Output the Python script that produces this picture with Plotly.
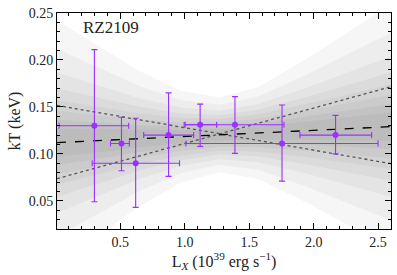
import plotly.graph_objects as go

# ---- data ----
lx      = [0.30, 0.51, 0.62, 0.875, 1.12, 1.39, 1.755, 2.17]
kt      = [0.130, 0.111, 0.090, 0.120, 0.131, 0.131, 0.111, 0.120]
kt_lo   = [0.049, 0.082, 0.043, 0.076, 0.108, 0.1005, 0.071, 0.100]
kt_hi   = [0.211, 0.139, 0.138, 0.165, 0.153, 0.161, 0.152, 0.141]
lx_lo   = [0.026, 0.425, 0.283, 0.682, 1.004, 0.996, 1.01, 1.894]
lx_hi   = [0.566, 0.571, 0.96, 1.07, 1.248, 1.77, 2.50, 2.45]

# best-fit and 1-sigma extreme lines (end points at x limits)
line_x      = [0.01, 2.6]
best_fit    = [0.112, 0.129]
upper_dot   = [0.1516, 0.0896]
lower_dot   = [0.0736, 0.1715]

# posterior fan (shaded envelopes): centre and half-widths at sample x
fan_x      = [0.01, 0.65, 0.97, 1.27, 1.57, 1.95, 2.6]
fan_center = [0.112, 0.1162, 0.1183, 0.1203, 0.1222, 0.1248, 0.129]
fan_halfwidths = [
    [0.130, 0.0720, 0.0490, 0.040, 0.0490, 0.0770, 0.130],
    [0.100, 0.0560, 0.0390, 0.032, 0.0390, 0.0600, 0.100],
    [0.075, 0.0430, 0.0310, 0.026, 0.0310, 0.0460, 0.075],
    [0.058, 0.0340, 0.0250, 0.021, 0.0250, 0.0360, 0.058],
    [0.045, 0.0270, 0.0200, 0.017, 0.0200, 0.0285, 0.045],
    [0.034, 0.0205, 0.0152, 0.013, 0.0152, 0.0215, 0.034],
    [0.024, 0.0145, 0.0107, 0.009, 0.0107, 0.0152, 0.024],
    [0.015, 0.0093, 0.0070, 0.006, 0.0070, 0.0098, 0.015],
]

purple = "#9b30ff"
font_family = "Liberation Serif, DejaVu Serif, serif"
text_col = "#222222"

fig = go.Figure()

for hw in fan_halfwidths:
    hi = [c + h for c, h in zip(fan_center, hw)]
    lo = [c - h for c, h in zip(fan_center, hw)]
    fig.add_trace(go.Scatter(
        x=fan_x + fan_x[::-1], y=hi + lo[::-1],
        fill="toself", fillcolor="rgba(0,0,0,0.035)",
        line=dict(width=0), mode="lines",
        hoverinfo="skip", showlegend=False))

fig.add_trace(go.Scatter(x=line_x, y=upper_dot, mode="lines",
                         line=dict(color="#555555", width=1.3, dash="dot"), showlegend=False))
fig.add_trace(go.Scatter(x=line_x, y=lower_dot, mode="lines",
                         line=dict(color="#555555", width=1.3, dash="dot"), showlegend=False))
fig.add_trace(go.Scatter(x=line_x, y=best_fit, mode="lines",
                         line=dict(color="black", width=1.3, dash="dash"), showlegend=False))

fig.add_trace(go.Scatter(
    x=lx, y=kt, mode="markers",
    marker=dict(color=purple, size=6),
    error_y=dict(type="data", symmetric=False,
                 array=[h - v for h, v in zip(kt_hi, kt)],
                 arrayminus=[v - l for l, v in zip(kt_lo, kt)],
                 color=purple, thickness=1.1, width=3),
    error_x=dict(type="data", symmetric=False,
                 array=[h - v for h, v in zip(lx_hi, lx)],
                 arrayminus=[v - l for l, v in zip(lx_lo, lx)],
                 color=purple, thickness=1.1, width=3),
    showlegend=False))

axis_common = dict(
    showgrid=False, zeroline=False, showline=True, linecolor="black", linewidth=1,
    mirror="ticks", ticks="inside", ticklen=6, tickcolor="black", tickwidth=1,
    tickfont=dict(family=font_family, size=14, color=text_col), automargin=False,
)

fig.update_xaxes(range=[0.01, 2.6], tickvals=[0.5, 1.0, 1.5, 2.0, 2.5],
                 ticktext=["0.5", "1.0", "1.5", "2.0", "2.5"],
                 minor=dict(dtick=0.1, tick0=0, ticks="inside", ticklen=3, tickcolor="black"),
                 title=dict(text="L<sub><i>X</i></sub> (10<sup>39</sup> erg s<sup>−1</sup>)",
                            font=dict(family=font_family, size=16, color=text_col), standoff=0),
                 **axis_common)
fig.update_yaxes(range=[0.02, 0.25], tickvals=[0.05, 0.10, 0.15, 0.20, 0.25],
                 ticktext=["0.05", "0.10", "0.15", "0.20", "0.25"],
                 minor=dict(dtick=0.01, tick0=0, ticks="inside", ticklen=3, tickcolor="black"),
                 title=dict(text="kT (keV)", font=dict(family=font_family, size=16, color=text_col),
                            standoff=4),
                 **axis_common)

fig.add_annotation(text="RZ2109", x=0.072, y=0.935, xref="paper", yref="paper",
                   xanchor="left", yanchor="middle", showarrow=False,
                   font=dict(family=font_family, size=17, color=text_col))

fig.update_layout(width=397, height=275, margin=dict(l=57, r=6, t=13, b=46),
                  plot_bgcolor="white", paper_bgcolor="white")

fig.write_html("out.html", config={"displayModeBar": False},
               post_script="document.body.style.margin='0';document.body.style.padding='0';")
